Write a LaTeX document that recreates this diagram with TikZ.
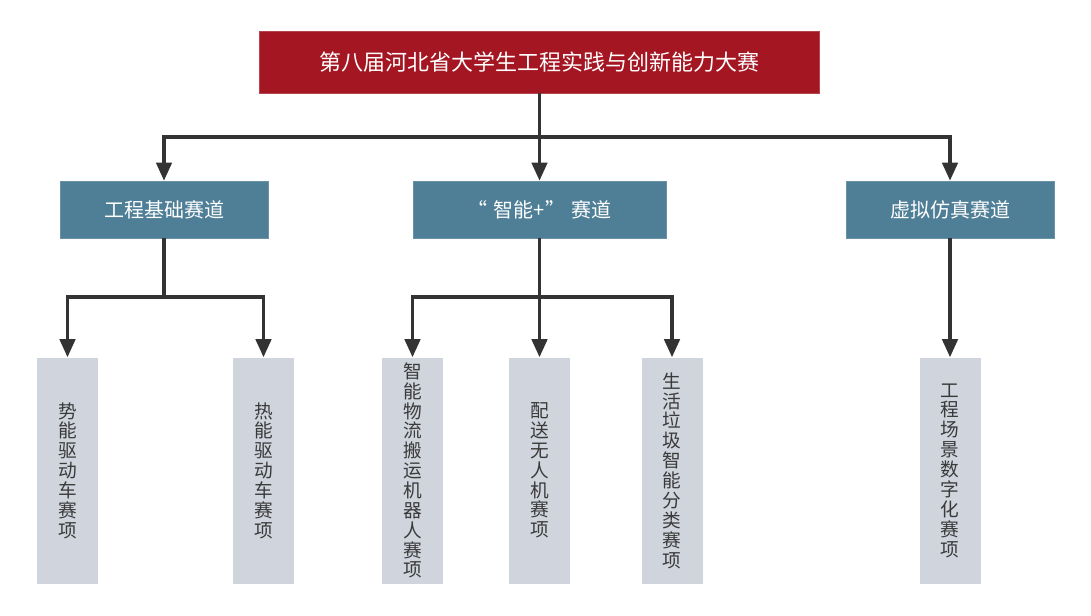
\documentclass[tikz,border=0pt]{standalone}
\usepackage{fontspec}
\setmainfont{Noto Sans CJK SC}
\usetikzlibrary{arrows.meta}
\definecolor{topred}{HTML}{A31622}
\definecolor{trackblue}{HTML}{4F7F96}
\definecolor{leafgray}{HTML}{CFD4DD}
\definecolor{linegray}{HTML}{333333}
\definecolor{leaftext}{HTML}{3A3A3A}
\tikzset{
  topbox/.style={fill=topred, draw=topred!80!white, line width=0.5pt, text=white, inner sep=0pt,
    minimum width={560*0.75pt}, minimum height={62*0.75pt}, font=\fontsize{16.5pt}{18pt}\selectfont},
  trackbox/.style={fill=trackblue, draw=trackblue!85!white, line width=0.5pt, text=white, inner sep=0pt,
    minimum height={57*0.75pt}, font=\fontsize{15pt}{17pt}\selectfont},
  leafbox/.style={fill=leafgray, text=leaftext, inner sep=0pt, align=center,
    minimum width={61*0.75pt}, minimum height={226*0.75pt}, font=\fontsize{14pt}{14.9pt}\selectfont},
  conn/.style={draw=linegray, line width=2.5pt, line join=miter},
  arr/.style={conn, -{Triangle[length=13.5pt, width=11.5pt]}},
}
\begin{document}
\begin{tikzpicture}[x=0.75pt,y=-0.75pt]
\useasboundingbox[fill=white] (0,0) rectangle (1091,615);
% nodes
\node[topbox] (top) at (539.5,62) {第八届河北省大学生工程实践与创新能力大赛};
\node[trackbox, minimum width={208*0.75pt}] (b1) at (164,209.5) {工程基础赛道};
\node[trackbox, minimum width={253*0.75pt}] (b2) at (539.5,209.5) {“\hspace{0.3em}智能+”\hspace{0.3em}赛道};
\node[trackbox, minimum width={208*0.75pt}] (b3) at (950,209.5) {虚拟仿真赛道};
\node[leafbox] (l1) at (67.5,470.5) {势\\能\\驱\\动\\车\\赛\\项};
\node[leafbox] (l2) at (263.5,470.5) {热\\能\\驱\\动\\车\\赛\\项};
\node[leafbox] (l3) at (412.5,470.5) {智\\能\\物\\流\\搬\\运\\机\\器\\人\\赛\\项};
\node[leafbox] (l4) at (539.5,470.5) {配\\送\\无\\人\\机\\赛\\项};
\node[leafbox] (l5) at (672,470.5) {生\\活\\垃\\圾\\智\\能\\分\\类\\赛\\项};
\node[leafbox] (l6) at (950,470.5) {工\\程\\场\\景\\数\\字\\化\\赛\\项};
% junctions
\coordinate (j0) at (539.5,137);
\coordinate (j1) at (164,297);
\coordinate (j2) at (539.5,297);
% connectors
\draw[conn] (top.south) -- (j0);
\draw[arr] (j0) -| (b1.north);
\draw[arr] (j0) -- (b2.north);
\draw[arr] (j0) -| (b3.north);
\draw[conn] (b1.south) -- (j1);
\draw[arr] (j1) -| (l1.north);
\draw[arr] (j1) -| (l2.north);
\draw[conn] (b2.south) -- (j2);
\draw[arr] (j2) -| (l3.north);
\draw[arr] (j2) -- (l4.north);
\draw[arr] (j2) -| (l5.north);
\draw[arr] (b3.south) -- (l6.north);
\end{tikzpicture}
\end{document}
